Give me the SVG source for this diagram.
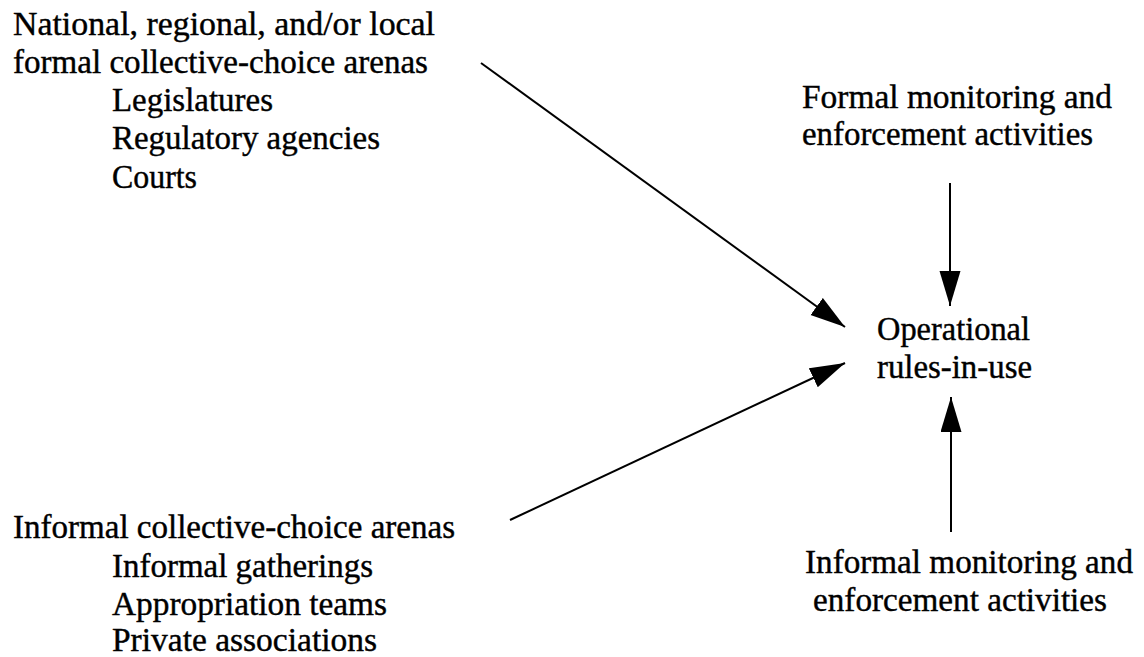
<svg xmlns="http://www.w3.org/2000/svg" width="1144" height="657" viewBox="0 0 1144 657">
<style>
text{font-family:"Liberation Serif","Times New Roman",serif;font-size:33px;fill:#000;stroke:#000;stroke-width:0.4}
.c{stroke:#000;stroke-width:2;fill:none}
</style>
<defs>
<marker id="ah" markerUnits="userSpaceOnUse" markerWidth="36" markerHeight="22" refX="35" refY="10.5" orient="auto" viewBox="0 0 36 22">
<path d="M0,0 L35,10.5 L0,21 z" fill="#000"/>
</marker>
</defs>
<rect width="1144" height="657" fill="#fff"/>
<g id="formal-arenas">
<text x="13" y="35" textLength="422" lengthAdjust="spacingAndGlyphs">National, regional, and/or local</text>
<text x="13" y="73" textLength="415" lengthAdjust="spacingAndGlyphs">formal collective-choice arenas</text>
<text x="112" y="111" textLength="161" lengthAdjust="spacingAndGlyphs">Legislatures</text>
<text x="112" y="149" textLength="268" lengthAdjust="spacingAndGlyphs">Regulatory agencies</text>
<text x="112" y="188" textLength="85" lengthAdjust="spacingAndGlyphs">Courts</text>
</g>
<g id="informal-arenas">
<text x="13" y="538" textLength="442" lengthAdjust="spacingAndGlyphs">Informal collective-choice arenas</text>
<text x="112" y="577" textLength="261" lengthAdjust="spacingAndGlyphs">Informal gatherings</text>
<text x="112" y="615" textLength="275" lengthAdjust="spacingAndGlyphs">Appropriation teams</text>
<text x="112" y="651" textLength="265" lengthAdjust="spacingAndGlyphs">Private associations</text>
</g>
<g id="formal-monitoring">
<text x="802" y="108" textLength="310" lengthAdjust="spacingAndGlyphs">Formal monitoring and</text>
<text x="802" y="145" textLength="291" lengthAdjust="spacingAndGlyphs">enforcement activities</text>
</g>
<g id="informal-monitoring">
<text x="805" y="573" textLength="328" lengthAdjust="spacingAndGlyphs">Informal monitoring and</text>
<text x="813" y="611" textLength="294" lengthAdjust="spacingAndGlyphs">enforcement activities</text>
</g>
<g id="rules-in-use">
<text x="877" y="340" textLength="153" lengthAdjust="spacingAndGlyphs">Operational</text>
<text x="877" y="378" textLength="155" lengthAdjust="spacingAndGlyphs">rules-in-use</text>
</g>
<g id="connectors">
<line class="c" x1="481" y1="63" x2="845" y2="327" marker-end="url(#ah)"/>
<line class="c" x1="510" y1="520" x2="845" y2="363" marker-end="url(#ah)"/>
<line class="c" x1="950" y1="183" x2="950" y2="306" marker-end="url(#ah)"/>
<line class="c" x1="951" y1="532" x2="951" y2="397" marker-end="url(#ah)"/>
</g>
</svg>
